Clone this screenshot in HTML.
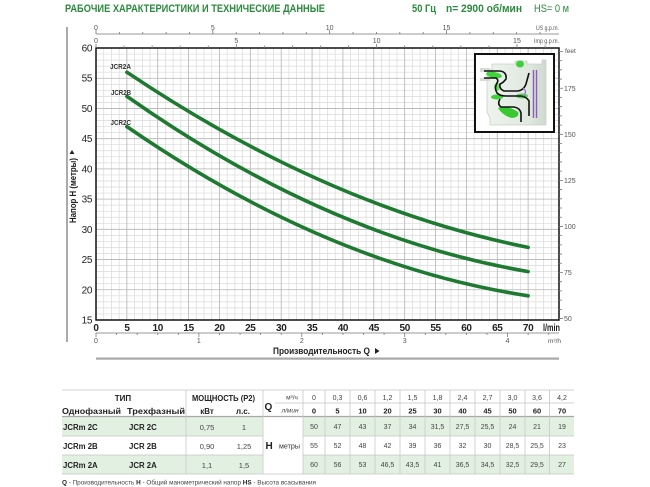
<!DOCTYPE html>
<html><head><meta charset="utf-8"><style>
html,body{margin:0;padding:0;background:#fff;}
svg{display:block;font-family:"Liberation Sans",sans-serif;}
</style></head><body>
<svg width="650" height="487" viewBox="0 0 650 487" xmlns="http://www.w3.org/2000/svg">
<rect width="650" height="487" fill="#fff"/>
<!-- Title -->
<text x="65" y="12" font-size="11" font-weight="bold" fill="#2b8a3e" textLength="260" lengthAdjust="spacingAndGlyphs">РАБОЧИЕ ХАРАКТЕРИСТИКИ И ТЕХНИЧЕСКИЕ ДАННЫЕ</text>
<text x="412" y="12" font-size="11" font-weight="bold" fill="#2b8a3e" textLength="24" lengthAdjust="spacingAndGlyphs">50 Гц</text>
<text x="446" y="12" font-size="11" font-weight="bold" fill="#2b8a3e" textLength="76" lengthAdjust="spacingAndGlyphs">n= 2900 об/мин</text>
<text x="534" y="12" font-size="11" fill="#2b8a3e" textLength="35" lengthAdjust="spacingAndGlyphs">HS= 0 м</text>

<!-- left vertical bar -->
<line x1="67" y1="27" x2="67" y2="342" stroke="#555" stroke-width="1"/>

<!-- minor grid -->
<path stroke="#dadada" stroke-width="0.7" fill="none" d="
M103.72 48V320M111.43 48V320M119.15 48V320M134.58 48V320M142.30 48V320M150.02 48V320M165.45 48V320M173.17 48V320M180.88 48V320M196.32 48V320M204.03 48V320M211.75 48V320M227.18 48V320M234.90 48V320M242.62 48V320M258.05 48V320M265.77 48V320M273.48 48V320M288.92 48V320M296.63 48V320M304.35 48V320M319.78 48V320M327.50 48V320M335.22 48V320M350.65 48V320M358.37 48V320M366.08 48V320M381.52 48V320M389.23 48V320M396.95 48V320M412.38 48V320M420.10 48V320M427.82 48V320M443.25 48V320M450.97 48V320M458.68 48V320M474.12 48V320M481.83 48V320M489.55 48V320M504.98 48V320M512.70 48V320M520.42 48V320M535.85 48V320M543.57 48V320M551.28 48V320
M96 54.04H559M96 60.09H559M96 66.13H559M96 72.18H559M96 84.27H559M96 90.31H559M96 96.36H559M96 102.40H559M96 114.49H559M96 120.53H559M96 126.58H559M96 132.62H559M96 144.71H559M96 150.76H559M96 156.80H559M96 162.84H559M96 174.93H559M96 180.98H559M96 187.02H559M96 193.07H559M96 205.16H559M96 211.20H559M96 217.24H559M96 223.29H559M96 235.38H559M96 241.42H559M96 247.47H559M96 253.51H559M96 265.60H559M96 271.64H559M96 277.69H559M96 283.73H559M96 295.82H559M96 301.87H559M96 307.91H559M96 313.96H559"/>
<!-- major grid -->
<path stroke="#b4b4b4" stroke-width="0.8" fill="none" d="
M126.87 48V320M157.73 48V320M188.60 48V320M219.47 48V320M250.33 48V320M281.20 48V320M312.07 48V320M342.93 48V320M373.80 48V320M404.67 48V320M435.53 48V320M466.40 48V320M497.27 48V320M528.13 48V320
M96 78.22H559M96 108.44H559M96 138.67H559M96 168.89H559M96 199.11H559M96 229.33H559M96 259.56H559M96 289.78H559"/>

<!-- plot border -->
<rect x="96" y="48" width="463" height="272" fill="none" stroke="#111" stroke-width="1.5"/>

<!-- Y labels -->
<g font-size="10" fill="#222" text-anchor="end" letter-spacing="-0.4">
<text x="92" y="51.5">60</text><text x="92" y="81.7">55</text><text x="92" y="111.9">50</text><text x="92" y="142.2">45</text><text x="92" y="172.4">40</text><text x="92" y="202.6">35</text><text x="92" y="232.8">30</text><text x="92" y="263.1">25</text><text x="92" y="293.3">20</text><text x="92" y="323.5">15</text>
</g>
<!-- X labels -->
<g font-size="10" font-weight="bold" fill="#222" text-anchor="middle" letter-spacing="-0.4">
<text x="96" y="331">0</text><text x="126.9" y="331">5</text><text x="157.7" y="331">10</text><text x="188.6" y="331">15</text><text x="219.5" y="331">20</text><text x="250.3" y="331">25</text><text x="281.2" y="331">30</text><text x="312.1" y="331">35</text><text x="342.9" y="331">40</text><text x="373.8" y="331">45</text><text x="404.7" y="331">50</text><text x="435.5" y="331">55</text><text x="466.4" y="331">60</text><text x="497.3" y="331">65</text><text x="528.1" y="331">70</text>
</g>
<text x="543" y="331" font-size="10" font-weight="bold" fill="#222" textLength="17" lengthAdjust="spacingAndGlyphs">l/min</text>

<!-- US gpm axis -->
<line x1="96" y1="34" x2="559" y2="34" stroke="#777" stroke-width="0.8"/>
<path stroke="#777" stroke-width="0.8" d="M96 34V30M119.37 34V32M142.74 34V32M166.11 34V32M189.48 34V32M212.85 34V30M236.21 34V32M259.58 34V32M282.95 34V32M306.32 34V32M329.69 34V30M353.06 34V32M376.43 34V32M399.80 34V32M423.17 34V32M446.54 34V30M469.90 34V32M493.27 34V32M516.64 34V32M540.01 34V32"/>
<g font-size="7" fill="#555" text-anchor="middle">
<text x="96" y="30">0</text><text x="212.85" y="30">5</text><text x="329.69" y="30">10</text><text x="446.54" y="30">15</text>
</g>
<text x="536" y="30" font-size="6" fill="#555" textLength="23" lengthAdjust="spacingAndGlyphs">US g.p.m.</text>

<!-- Imp gpm axis -->
<path stroke="#777" stroke-width="0.8" d="M96 48V44M124.06 48V45.5M152.13 48V45.5M180.19 48V45.5M208.26 48V45.5M236.32 48V44M264.38 48V45.5M292.45 48V45.5M320.51 48V45.5M348.58 48V45.5M376.64 48V44M404.70 48V45.5M432.77 48V45.5M460.83 48V45.5M488.90 48V45.5M516.96 48V44M545.02 48V45.5"/>
<g font-size="7" fill="#555" text-anchor="middle">
<text x="96" y="43">0</text><text x="236.32" y="43">5</text><text x="376.64" y="43">10</text><text x="516.96" y="43">15</text>
</g>
<text x="534" y="43" font-size="6" fill="#555" textLength="25" lengthAdjust="spacingAndGlyphs">Imp g.p.m.</text>

<!-- m3/h axis -->
<line x1="96" y1="333" x2="559" y2="333" stroke="#777" stroke-width="0.8"/>
<path stroke="#777" stroke-width="0.8" d="M96 333V337M116.58 333V335M137.16 333V335M157.73 333V335M178.31 333V335M198.89 333V337M219.47 333V335M240.05 333V335M260.62 333V335M281.20 333V335M301.78 333V337M322.36 333V335M342.94 333V335M363.51 333V335M384.09 333V335M404.67 333V337M425.25 333V335M445.83 333V335M466.40 333V335M486.98 333V335M507.56 333V337M528.14 333V335M548.72 333V335"/>
<g font-size="7" fill="#555" text-anchor="middle">
<text x="96" y="343">0</text><text x="198.89" y="343">1</text><text x="301.78" y="343">2</text><text x="404.67" y="343">3</text><text x="507.56" y="343">4</text>
</g>
<text x="548" y="343" font-size="6.5" fill="#555">m³/h</text>

<!-- feet axis -->
<path stroke="#777" stroke-width="0.8" d="M559 318.55h4M559 309.34h3M559 300.13h3M559 290.91h3M559 281.70h3M559 272.49h4M559 263.28h3M559 254.07h3M559 244.86h3M559 235.64h3M559 226.43h4M559 217.22h3M559 208.01h3M559 198.80h3M559 189.58h3M559 180.37h4M559 171.16h3M559 161.95h3M559 152.74h3M559 143.53h3M559 134.31h4M559 125.10h3M559 115.89h3M559 106.68h3M559 97.47h3M559 88.26h4M559 79.04h3M559 69.83h3M559 60.62h3M559 51.41h4"/>
<g font-size="7" fill="#555">
<text x="564" y="321">50</text><text x="564" y="275">75</text><text x="564" y="229">100</text><text x="564" y="183">125</text><text x="564" y="137">150</text><text x="564" y="91">175</text>
<text x="565" y="53" font-size="6.5">feet</text>
</g>

<!-- Y axis title -->
<text x="76" y="223" transform="rotate(-90 76 223)" font-size="9" font-weight="bold" fill="#222" textLength="65" lengthAdjust="spacingAndGlyphs">Напор H (метры)</text>
<polygon points="69.5,154 74.5,154 72,150" fill="#222"/>

<!-- X axis title -->
<text x="273" y="354" font-size="9.5" font-weight="bold" fill="#222" textLength="97" lengthAdjust="spacingAndGlyphs">Производительность Q</text>
<polygon points="375,348 375,354 379.5,351" fill="#222"/>
<rect x="96" y="357.5" width="463" height="2.2" fill="#a8a8a8"/>

<!-- Curves -->
<g fill="none" stroke="#1d7a30" stroke-width="3.6" stroke-linecap="round">
<path d="M126.9 72.2 Q327.5 207.0 528.1 247.4"/>
<path d="M126.9 96.4 Q327.5 237.3 528.1 271.6"/>
<path d="M126.9 126.6 Q327.5 265.0 528.1 295.8"/>
</g>
<g font-size="7.5" fill="#333" font-weight="bold">
<text x="110" y="69" textLength="21" lengthAdjust="spacingAndGlyphs">JCR2A</text>
<text x="111" y="95" textLength="20" lengthAdjust="spacingAndGlyphs">JCR2B</text>
<text x="110.5" y="125" textLength="20.5" lengthAdjust="spacingAndGlyphs">JCR2C</text>
</g>

<!-- Inset pump -->
<rect x="475" y="54" width="79" height="78" fill="#fff" stroke="#111" stroke-width="2"/>
<defs>
<linearGradient id="bg1" x1="0" y1="0" x2="1" y2="0">
<stop offset="0" stop-color="#eef3ee"/><stop offset="0.7" stop-color="#e0e8e0"/><stop offset="1" stop-color="#cfd9cf"/>
</linearGradient>
</defs>
<path d="M487 70 H492 V64 H515 V61 H527 V64 H542 V60 H546 V125 H490 V118 L487 112 Z" fill="url(#bg1)" stroke="#c8d0c8" stroke-width="0.8"/>
<rect x="480" y="68" width="10" height="4" fill="#d8dcd8"/>
<rect x="480" y="78" width="10" height="3" fill="#d8dcd8"/>
<ellipse cx="520" cy="64" rx="4" ry="3.5" fill="#3fcf3a"/>
<ellipse cx="494" cy="75" rx="8" ry="3" fill="#40d23a" transform="rotate(10 494 75)"/>
<ellipse cx="497" cy="97" rx="6" ry="2.5" fill="#3fcf3a"/>
<ellipse cx="522" cy="96" rx="6" ry="2.5" fill="#5ad455"/>
<path d="M498 108 Q506 104 518 112 Q520 117 512 118 Q503 116 498 108 Z" fill="#38c832"/>
<ellipse cx="497" cy="87" rx="3" ry="4" fill="#6edb66"/>
<path d="M484 71 H500 Q507 72 506 79 Q503 83 500 84 Q499 89 504 91 H518 Q524 90 526 84 L529 73" fill="none" stroke="#111" stroke-width="1.6"/>
<path d="M484 78 H496 Q499 80 497 83 Q494 88 497 93 Q500 96 506 96 H521 Q527 97 529 101 V116" fill="none" stroke="#111" stroke-width="1.6"/>
<path d="M500 99 Q497 104 501 107 H514 Q520 108 521 113 V122" fill="none" stroke="#111" stroke-width="1.6"/>
<line x1="533.5" y1="70" x2="533.5" y2="118" stroke="#8a5bbd" stroke-width="1.4"/>
<line x1="536.5" y1="70" x2="536.5" y2="118" stroke="#8a5bbd" stroke-width="1.4"/>
<path d="M523 88 Q528 92 523 96" fill="none" stroke="#9a6ccc" stroke-width="1.2"/>

<!-- Table -->
<rect x="62" y="416.5" width="201" height="19.5" fill="#e2f0e2"/>
<rect x="303" y="416.5" width="271" height="19.5" fill="#e2f0e2"/>
<rect x="62" y="455" width="201" height="19" fill="#e2f0e2"/>
<rect x="303" y="455" width="271" height="19" fill="#e2f0e2"/>
<g stroke="#c4c4c4" stroke-width="0.8">
<line x1="62" y1="390" x2="574" y2="390"/>
<line x1="275" y1="403" x2="574" y2="403"/>
<line x1="62" y1="436" x2="263" y2="436"/>
<line x1="303" y1="436" x2="574" y2="436"/>
<line x1="62" y1="455" x2="263" y2="455"/>
<line x1="303" y1="455" x2="574" y2="455"/>
<line x1="62" y1="474" x2="574" y2="474"/>
</g>
<line x1="62" y1="416.5" x2="574" y2="416.5" stroke="#a8a8a8" stroke-width="1.2"/>
<g stroke="#c8c8c8" stroke-width="0.8">
<line x1="186" y1="390" x2="186" y2="474"/>
<line x1="263" y1="390" x2="263" y2="474"/>
<line x1="303" y1="390" x2="303" y2="474"/>
<line x1="325" y1="390" x2="325" y2="474"/>
<line x1="350" y1="390" x2="350" y2="474"/>
<line x1="375" y1="390" x2="375" y2="474"/>
<line x1="400" y1="390" x2="400" y2="474"/>
<line x1="425" y1="390" x2="425" y2="474"/>
<line x1="450" y1="390" x2="450" y2="474"/>
<line x1="475" y1="390" x2="475" y2="474"/>
<line x1="500" y1="390" x2="500" y2="474"/>
<line x1="525" y1="390" x2="525" y2="474"/>
<line x1="549.5" y1="390" x2="549.5" y2="474"/>
</g>
<g font-size="8" font-weight="bold" fill="#222">
<text x="123" y="401" text-anchor="middle">ТИП</text>
<text x="192" y="401" textLength="63" lengthAdjust="spacingAndGlyphs">МОЩНОСТЬ (P2)</text>
<text x="62" y="414" textLength="59" lengthAdjust="spacingAndGlyphs">Однофазный</text>
<text x="127" y="414" textLength="58" lengthAdjust="spacingAndGlyphs">Трехфазный</text>
<text x="207" y="414" text-anchor="middle">кВт</text>
<text x="243" y="414" text-anchor="middle">л.с.</text>
<text x="264.5" y="410" font-size="10">Q</text>
<text x="265.5" y="449" font-size="10">H</text>
</g>
<g font-size="6.5" fill="#444">
<text x="292" y="399.5" text-anchor="middle">м³/ч</text>
<text x="290" y="412.5" text-anchor="middle" font-style="italic">л/мин</text>
</g>
<text x="279" y="448.5" font-size="7" fill="#333" textLength="21" lengthAdjust="spacingAndGlyphs">метры</text>
<g font-size="7" fill="#444" text-anchor="middle">
<text x="314" y="400">0</text><text x="337.5" y="400">0,3</text><text x="362.5" y="400">0,6</text><text x="387.5" y="400">1,2</text><text x="412.5" y="400">1,5</text><text x="437.5" y="400">1,8</text><text x="462.5" y="400">2,4</text><text x="487.5" y="400">2,7</text><text x="512.5" y="400">3,0</text><text x="537" y="400">3,6</text><text x="562" y="400">4,2</text>
</g>
<g font-size="7.5" font-weight="bold" fill="#222" text-anchor="middle">
<text x="314" y="413.5">0</text><text x="337.5" y="413.5">5</text><text x="362.5" y="413.5">10</text><text x="387.5" y="413.5">20</text><text x="412.5" y="413.5">25</text><text x="437.5" y="413.5">30</text><text x="462.5" y="413.5">40</text><text x="487.5" y="413.5">45</text><text x="512.5" y="413.5">50</text><text x="537" y="413.5">60</text><text x="562" y="413.5">70</text>
</g>
<g font-size="7.8" font-weight="bold" fill="#222">
<text x="63" y="430">JCRm 2C</text><text x="129" y="430">JCR 2C</text>
<text x="63" y="449">JCRm 2B</text><text x="129" y="449">JCR 2B</text>
<text x="63" y="468">JCRm 2A</text><text x="129" y="468">JCR 2A</text>
</g>
<g font-size="7.5" fill="#444" text-anchor="middle">
<text x="207" y="430">0,75</text><text x="244" y="430">1</text>
<text x="207" y="449">0,90</text><text x="244" y="449">1,25</text>
<text x="207" y="468">1,1</text><text x="244" y="468">1,5</text>
</g>
<g font-size="7" fill="#444" text-anchor="middle">
<text x="314" y="429">50</text><text x="337.5" y="429">47</text><text x="362.5" y="429">43</text><text x="387.5" y="429">37</text><text x="412.5" y="429">34</text><text x="437.5" y="429">31,5</text><text x="462.5" y="429">27,5</text><text x="487.5" y="429">25,5</text><text x="512.5" y="429">24</text><text x="537" y="429">21</text><text x="562" y="429">19</text>
<text x="314" y="448">55</text><text x="337.5" y="448">52</text><text x="362.5" y="448">48</text><text x="387.5" y="448">42</text><text x="412.5" y="448">39</text><text x="437.5" y="448">36</text><text x="462.5" y="448">32</text><text x="487.5" y="448">30</text><text x="512.5" y="448">28,5</text><text x="537" y="448">25,5</text><text x="562" y="448">23</text>
<text x="314" y="467">60</text><text x="337.5" y="467">56</text><text x="362.5" y="467">53</text><text x="387.5" y="467">46,5</text><text x="412.5" y="467">43,5</text><text x="437.5" y="467">41</text><text x="462.5" y="467">36,5</text><text x="487.5" y="467">34,5</text><text x="512.5" y="467">32,5</text><text x="537" y="467">29,5</text><text x="562" y="467">27</text>
</g>
<text x="62" y="484.5" font-size="6" fill="#444" textLength="254" lengthAdjust="spacingAndGlyphs"><tspan font-weight="bold" fill="#222">Q</tspan> - Производительность   <tspan font-weight="bold" fill="#222">H</tspan> - Общий манометрический напор   <tspan font-weight="bold" fill="#222">HS</tspan> - Высота всасывания</text>
</svg>
</body></html>
